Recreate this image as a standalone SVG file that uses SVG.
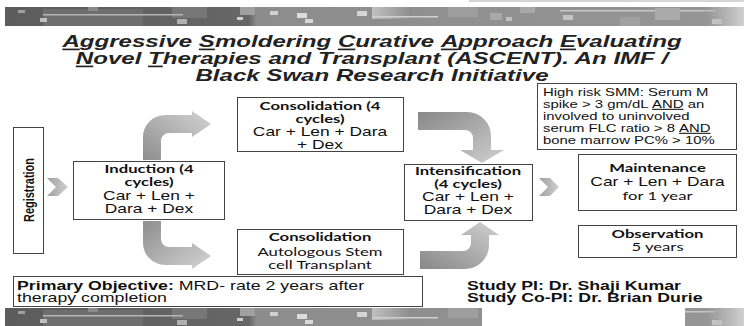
<svg xmlns="http://www.w3.org/2000/svg" width="744" height="326" viewBox="0 0 744 326">
<defs>
<style>
.box{fill:#fff;stroke:#444;stroke-width:1}
.b{font-family:Lato,"Liberation Sans",sans-serif;font-weight:700;font-size:11.5px;fill:#111}
.c{font-family:Lato,"Liberation Sans",sans-serif;font-size:11.5px;fill:#111}
.r{font-family:"Liberation Sans",Arial,sans-serif;font-size:12px;fill:#111}
.s{font-family:"Liberation Sans",Arial,sans-serif;font-size:10.5px;fill:#111}
.ab{font-family:"Liberation Sans",Arial,sans-serif;font-size:12px;font-weight:700;fill:#111}
.ar{font-family:"Liberation Sans",Arial,sans-serif;font-size:12px;fill:#111}
.t{font-family:"Liberation Sans",Arial,sans-serif;font-size:16.5px;font-weight:700;font-style:italic;fill:#222}
.u{text-decoration:underline}
</style>
<linearGradient id="bg" x1="0" y1="0" x2="1" y2="0">
<stop offset="0" stop-color="#5c5c5c"/><stop offset="0.33" stop-color="#666"/><stop offset="0.34" stop-color="#8c8c8c"/><stop offset="0.95" stop-color="#959595"/><stop offset="1" stop-color="#c4c4c4"/>
</linearGradient>
<linearGradient id="ag1" x1="0" y1="1" x2="1" y2="0">
<stop offset="0" stop-color="#8e8e8e"/><stop offset="1" stop-color="#d4d4d4"/>
</linearGradient>
<linearGradient id="ag2" x1="0" y1="0" x2="1" y2="1">
<stop offset="0" stop-color="#8e8e8e"/><stop offset="1" stop-color="#d4d4d4"/>
</linearGradient>
<linearGradient id="ag3" x1="0" y1="0" x2="1" y2="1">
<stop offset="0" stop-color="#888"/><stop offset="1" stop-color="#d0d0d0"/>
</linearGradient>
<linearGradient id="ag4" x1="0" y1="1" x2="1" y2="0">
<stop offset="0" stop-color="#888"/><stop offset="1" stop-color="#d0d0d0"/>
</linearGradient>
<linearGradient id="cg" x1="0" y1="0" x2="1" y2="0">
<stop offset="0" stop-color="#a0a0a0"/><stop offset="1" stop-color="#cfcfcf"/>
</linearGradient>
<linearGradient id="fade" x1="0" y1="0" x2="1" y2="0">
<stop offset="0" stop-color="#959595" stop-opacity="0"/><stop offset="1" stop-color="#d0d0d0"/>
</linearGradient>
<linearGradient id="lite" x1="0" y1="0" x2="1" y2="0">
<stop offset="0" stop-color="#c0c0c0"/><stop offset="1" stop-color="#8c8c8c"/>
</linearGradient>
<g id="banner">
<rect x="5" y="0" width="739" height="19" fill="url(#bg)"/>
<rect x="43" y="2" width="100" height="17" fill="#6e6e6e"/>
<rect x="172" y="0" width="35" height="11" fill="#777"/>
<rect x="43" y="7" width="140" height="1.5" fill="#b5b5b5"/>
<rect x="18" y="3" width="7" height="3" fill="#a0a0a0"/>
<rect x="40" y="11" width="7" height="4" fill="#c0c0c0"/>
<rect x="88" y="0" width="10" height="4" fill="#8a8a8a"/>
<rect x="177" y="12" width="10" height="5" fill="#b0b0b0"/>
<rect x="240" y="0" width="15" height="8" fill="#a0a0a0"/>
<rect x="237" y="10" width="6" height="3" fill="#d0d0d0"/>
<rect x="270" y="4" width="8" height="4" fill="#d0d0d0"/>
<rect x="297" y="6" width="10" height="5" fill="#dcdcdc"/>
<rect x="305" y="12" width="8" height="4" fill="#d8d8d8"/>
<rect x="357" y="4" width="10" height="5" fill="#d5d5d5"/>
<rect x="372" y="0" width="40" height="12" fill="url(#lite)"/>
<rect x="372" y="9" width="66" height="1.5" fill="#d0d0d0"/>
<rect x="448" y="0" width="30" height="10" fill="#9e9e9e"/>
<rect x="490" y="6" width="12" height="7" fill="#a8a8a8"/>
<rect x="506" y="10" width="6" height="4" fill="#c0c0c0"/>
<rect x="520" y="0" width="15" height="6" fill="#a8a8a8"/>
<rect x="560" y="3" width="155" height="1.5" fill="#c8c8c8"/>
<rect x="563" y="8" width="10" height="5" fill="#c5c5c5"/>
<rect x="620" y="10" width="20" height="9" fill="#a0a0a0"/>
<rect x="655" y="1" width="25" height="12" fill="#aaa"/>
<rect x="712" y="12" width="10" height="5" fill="#d0d0d0"/>
<rect x="700" y="0" width="44" height="19" fill="url(#fade)"/>
</g>
<clipPath id="botclip"><rect x="0" y="0" width="482" height="19"/><rect x="685" y="0" width="59" height="19"/></clipPath>
</defs>
<rect width="744" height="326" fill="#fff"/>
<rect x="469" y="0" width="275" height="2" fill="#d5d5d5"/>
<use href="#banner" transform="translate(0,7)"/>
<g transform="translate(0,308)"><use href="#banner" clip-path="url(#botclip)"/></g>

<g id="title" transform="translate(372,0) scale(1.46,1)">
<text class="t" x="0" y="47" text-anchor="middle"><tspan class="u">A</tspan>ggressive <tspan class="u">S</tspan>moldering <tspan class="u">C</tspan>urative <tspan class="u">A</tspan>pproach <tspan class="u">E</tspan>valuating</text>
<text class="t" x="0" y="64" text-anchor="middle"><tspan class="u">N</tspan>ovel <tspan class="u">T</tspan>herapies and Transplant (ASCENT). An IMF /</text>
<text class="t" x="0" y="81" text-anchor="middle">Black Swan Research Initiative</text>
</g>

<g id="connectors">
<polygon points="47,178 58,178 68,187 58,196 47,196 56,187" fill="url(#cg)"/>
<polygon points="539,178 550,178 559,187 550,196 539,196 548,187" fill="url(#cg)"/>
<path d="M143,160 L143,137 A22,22 0 0 1 165,115 L192,115 L192,111 L211,124 L192,137 L192,133 L169,133 A8,8 0 0 0 161,141 L161,160 Z" fill="url(#ag1)"/>
<path d="M143,221 L143,243 A22,22 0 0 0 165,265 L192,265 L192,269 L211,256 L192,243 L192,247 L169,247 A8,8 0 0 1 161,239 L161,221 Z" fill="url(#ag2)"/>
<path d="M418,112 L467,112 A24,24 0 0 1 491,136 L491,150 L504,150 L482,163 L460,150 L473,150 L473,138 A8,8 0 0 0 465,130 L418,130 Z" fill="url(#ag3)"/>
<path d="M420,269 L465,269 A24,24 0 0 0 489,245 L489,235 L499,235 L480,222 L461,235 L471,235 L471,243 A8,8 0 0 1 463,251 L420,251 Z" fill="url(#ag4)"/>
</g>

<g id="registration">
<rect class="box" x="13.5" y="127.5" width="30" height="126"/>
<text class="ab" transform="translate(34,190) rotate(-90)" text-anchor="middle" textLength="64" lengthAdjust="spacingAndGlyphs" style="font-size:14px">Registration</text>
</g>

<g id="induction">
<rect class="box" x="73.5" y="161.5" width="151" height="58"/>
<g transform="translate(149,0) scale(1.45,1)">
<text class="b" x="0" y="173.5" text-anchor="middle">Induction (4</text>
<text class="b" x="0" y="186.5" text-anchor="middle">cycles)</text>
<text class="r" x="0" y="200" text-anchor="middle">Car + Len +</text>
<text class="r" x="0" y="213" text-anchor="middle">Dara + Dex</text>
</g>
</g>

<g id="consolidation1">
<rect class="box" x="237.5" y="97.5" width="166" height="54"/>
<g transform="translate(320,0) scale(1.45,1)">
<text class="b" x="0" y="110.5" text-anchor="middle">Consolidation (4</text>
<text class="b" x="0" y="123.5" text-anchor="middle">cycles)</text>
<text class="r" x="0" y="136" text-anchor="middle">Car + Len + Dara</text>
<text class="r" x="0" y="149" text-anchor="middle">+ Dex</text>
</g>
</g>

<g id="consolidation2">
<rect class="box" x="237.5" y="229.5" width="166" height="45"/>
<g transform="translate(320,0) scale(1.45,1)">
<text class="b" x="0" y="241.5" text-anchor="middle">Consolidation</text>
<text class="c" x="0" y="256" text-anchor="middle">Autologous Stem</text>
<text class="c" x="0" y="269.5" text-anchor="middle">cell Transplant</text>
</g>
</g>

<g id="intensification">
<rect class="box" x="404.5" y="164.5" width="128" height="56"/>
<g transform="translate(468,0) scale(1.45,1)">
<text class="b" x="0" y="175.5" text-anchor="middle">Intensification</text>
<text class="b" x="0" y="188.5" text-anchor="middle">(4 cycles)</text>
<text class="r" x="0" y="201" text-anchor="middle">Car + Len +</text>
<text class="r" x="0" y="214" text-anchor="middle">Dara + Dex</text>
</g>
</g>

<g id="highrisk">
<rect class="box" x="537.5" y="83.5" width="199" height="66"/>
<g transform="translate(543,0) scale(1.42,1)">
<text class="s" x="0" y="96">High risk SMM: Serum M</text>
<text class="s" x="0" y="108">spike &gt; 3 gm/dL <tspan class="u">AND</tspan> an</text>
<text class="s" x="0" y="120">involved to uninvolved</text>
<text class="s" x="0" y="132">serum FLC ratio &gt; 8 <tspan class="u">AND</tspan></text>
<text class="s" x="0" y="144">bone marrow PC% &gt; 10%</text>
</g>
</g>

<g id="maintenance">
<rect class="box" x="578.5" y="154.5" width="158" height="56"/>
<g transform="translate(657.5,0) scale(1.45,1)">
<text class="b" x="0" y="172" text-anchor="middle">Maintenance</text>
<text class="r" x="0" y="186" text-anchor="middle">Car + Len + Dara</text>
<text class="c" x="0" y="200" text-anchor="middle">for 1 year</text>
</g>
</g>

<g id="observation">
<rect class="box" x="578.5" y="225.5" width="158" height="32"/>
<g transform="translate(657.5,0) scale(1.45,1)">
<text class="b" x="0" y="238" text-anchor="middle">Observation</text>
<text class="c" x="0" y="251.5" text-anchor="middle">5 years</text>
</g>
</g>

<g id="objective">
<rect class="box" x="13.5" y="276.5" width="409" height="30"/>
<g transform="translate(17,0) scale(1.48,1)">
<text x="0" y="290"><tspan class="ab">Primary Objective:</tspan><tspan class="ar"> MRD- rate 2 years after</tspan></text>
<text class="ar" x="0" y="302.5">therapy completion</text>
</g>
</g>

<g id="studypi" transform="translate(467,0) scale(1.48,1)">
<text class="ab" x="0" y="290">Study PI: Dr. Shaji Kumar</text>
<text class="ab" x="0" y="302">Study Co-PI: Dr. Brian Durie</text>
</g>
</svg>
